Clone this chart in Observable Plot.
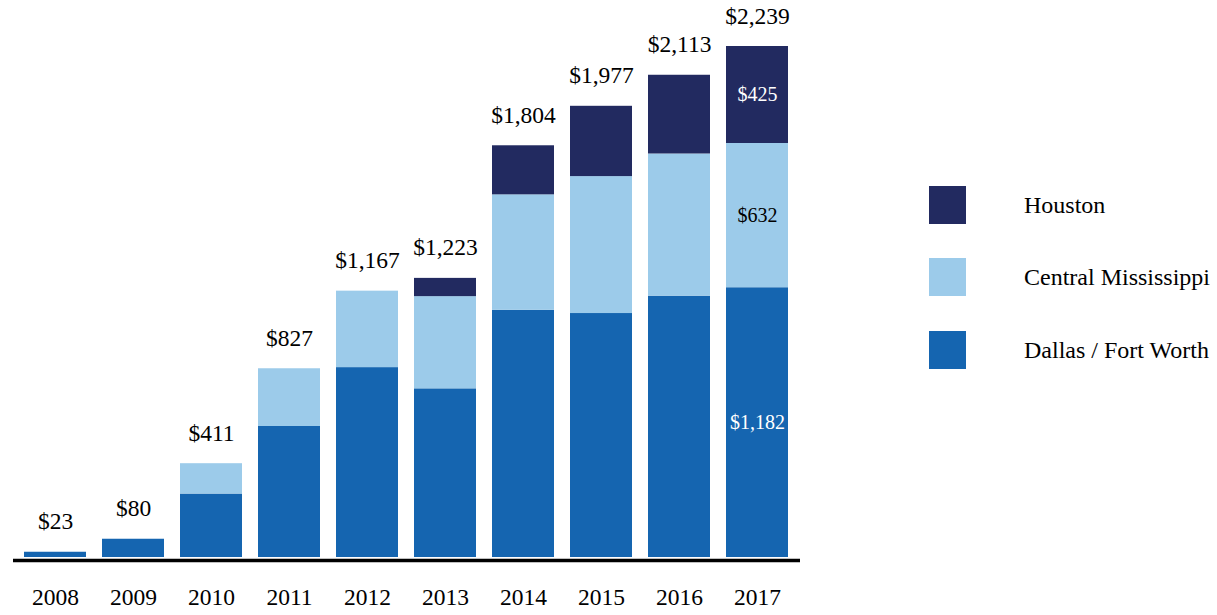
<!DOCTYPE html>
<html><head><meta charset="utf-8">
<script src="https://cdn.jsdelivr.net/npm/d3@7"></script>
<script src="https://cdn.jsdelivr.net/npm/@observablehq/plot@0.6"></script>
<style>
body{margin:0;background:#fff;}
#wrap{position:relative;width:1217px;height:615px;font-family:"Liberation Serif","Times New Roman",Times,"DejaVu Serif",serif;}
#legend{position:absolute;left:929px;top:0;}
.leg{position:absolute;left:0;display:flex;align-items:center;white-space:nowrap;}
.sw{width:37px;height:38px;flex:none;}
.lt{margin-left:58px;font-size:24px;color:#000;}
#wrap svg text{font-family:"Liberation Serif","Times New Roman",Times,"DejaVu Serif",serif;}
</style></head><body><div id="wrap"><div id="legend"></div></div>
<script>
const years = ["2008","2009","2010","2011","2012","2013","2014","2015","2016","2017"];
const regions = ["Dallas / Fort Worth","Central Mississippi","Houston"];
const colors = ["#1565b0","#9ccbea","#222a60"];
const dallas = [23, 80, 278, 574, 832, 739, 1083, 1069, 1145, 1182];
const centralMississippi = [0, 0, 133, 253, 335, 404, 506, 600, 623, 632];
const houston = [0, 0, 0, 0, 0, 80, 215, 308, 345, 425];
const totals = [23, 80, 411, 827, 1167, 1223, 1804, 1977, 2113, 2239];
const labelYear = "2017";
const legendOrder = ["Houston","Central Mississippi","Dallas / Fort Worth"];

const fmt = v => "$" + d3.format(",")(v);
const series = [dallas, centralMississippi, houston];
const rows = [];
years.forEach((yr, i) => {
  regions.forEach((r, k) => {
    if (series[k][i] > 0) rows.push({year: yr, region: r, value: series[k][i]});
  });
});

const font = '"Liberation Serif","Times New Roman",Times,"DejaVu Serif",serif';
const chart = Plot.plot({
  width: 1217, height: 615,
  marginLeft: 13, marginRight: 417, marginTop: 46, marginBottom: 58,
  style: {fontFamily: font, fontSize: "23.5px", color: "#000", background: "transparent"},
  x: {domain: years, paddingInner: 0.2, paddingOuter: 0.11, label: null, axis: null},
  y: {domain: [0, 2239], axis: null},
  color: {domain: regions, range: colors},
  marks: [
    Plot.barY(rows, {x: "year", y: "value", fill: "region"}),
    Plot.ruleY([0], {stroke: "#000", strokeWidth: 3.3, dy: 3}),
    Plot.axisX({tickSize: 0, tickPadding: 31, fontSize: 23.5, label: null}),
    Plot.text(years, {x: d => d, y: (d, i) => totals[i], text: (d, i) => fmt(totals[i]), lineAnchor: "bottom", dy: -23, fontSize: 23.5, fill: "#000"}),
    Plot.text(rows, Plot.stackY({x: "year", y: "value", z: "region",
      text: d => d.year === labelYear && d.region !== regions[1] ? fmt(d.value) : null,
      fill: "white", fontSize: 20})),
    Plot.text(rows, Plot.stackY({x: "year", y: "value", z: "region",
      text: d => d.year === labelYear && d.region === regions[1] ? fmt(d.value) : null,
      fill: "black", fontSize: 20}))
  ]
});
const wrap = document.getElementById("wrap");
wrap.insertBefore(chart, wrap.firstChild);

const legend = document.getElementById("legend");
const tops = [186, 258, 331];
legendOrder.forEach((r, i) => {
  const row = document.createElement("div");
  row.className = "leg";
  row.style.top = tops[i] + "px";
  const sw = document.createElement("div");
  sw.className = "sw";
  sw.style.background = colors[regions.indexOf(r)];
  const t = document.createElement("span");
  t.className = "lt";
  t.textContent = r;
  row.appendChild(sw); row.appendChild(t);
  legend.appendChild(row);
});
</script></body></html>
